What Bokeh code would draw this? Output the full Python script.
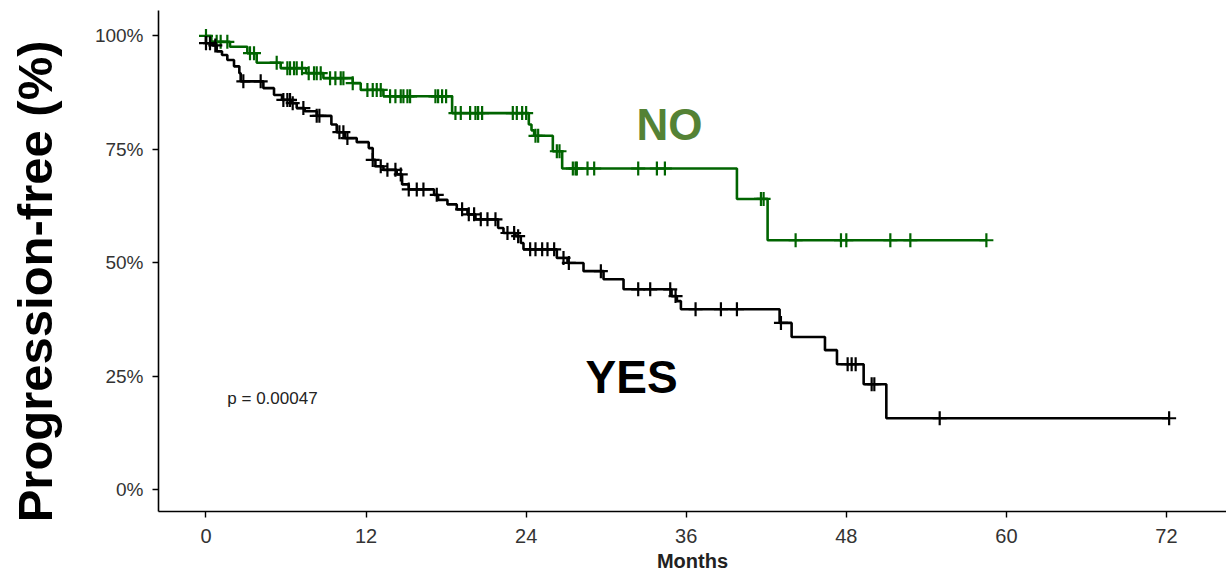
import numpy as np
from bokeh.plotting import figure
from bokeh.models import Range1d, FixedTicker, Label
from bokeh.core.properties import value
from bokeh.embed import file_html
from bokeh.resources import INLINE

# ---- data ----
groups = ["NO", "YES"]
x_ticks = [0, 12, 24, 36, 48, 60, 72]
y_ticks = [0, 25, 50, 75, 100]
y_tick_labels = ["0%", "25%", "50%", "75%", "100%"]
p_value_text = "p = 0.00047"
x_title = "Months"
y_title = "Progression-free (%)"

no_event_time = [0.4, 1.8, 3.1, 3.8, 5.6, 7.5, 8.8, 11.0, 11.6, 13.3, 18.45, 24.2, 24.4,
                 24.6, 26.0, 26.7, 39.8, 42.1]
no_surv = [98.7, 97.6, 96.2, 94.1, 92.9, 91.8, 90.7, 89.6, 88.1, 86.7, 83.0, 80.5, 79.2,
           78.0, 74.6, 70.8, 64.1, 55.0]
no_censor = [0.0, 0.8, 1.1, 1.6, 3.3, 3.6, 5.3, 6.1, 6.3, 6.6, 6.8, 7.2, 7.7, 8.1, 8.3, 8.6,
             9.3, 9.7, 10.1, 10.3, 11.0, 12.1, 12.5, 12.8, 13.1, 13.8, 14.2, 14.6, 14.8, 15.1,
             15.3, 17.2, 17.4, 17.7, 18.0, 18.7, 19.1, 19.8, 20.2, 20.4, 20.7, 23.0, 23.3, 23.7,
             24.0, 24.7, 24.9, 26.3, 26.5, 27.5, 27.7, 27.8, 28.6, 29.1, 32.4, 33.8, 34.4,
             41.6, 41.8, 44.2, 47.6, 48.0, 51.3, 52.8, 58.5]

yes_event_time = [0.0, 0.5, 0.8, 1.2, 1.6, 2.1, 2.5, 2.6, 4.3, 5.1, 5.7, 6.4, 6.8, 7.4, 8.3,
                  9.4, 9.8, 10.4, 11.3, 12.2, 12.5, 12.7, 13.3, 14.3, 14.7, 15.2, 17.1, 17.4,
                  18.1, 18.8, 19.6, 20.2, 21.9, 22.3, 23.2, 23.6, 23.8, 26.3, 27.1, 28.3, 29.8,
                  31.3, 34.9, 35.3, 35.6, 43.0, 43.9, 46.4, 47.3, 49.3, 51.0]
yes_surv = [98.4, 97.9, 96.6, 95.8, 94.7, 93.3, 91.8, 90.0, 88.5, 87.0, 85.9, 85.2, 84.1, 83.4,
            82.4, 80.5, 78.8, 77.5, 76.6, 75.3, 72.7, 71.3, 70.5, 69.5, 67.3, 66.2, 65.0, 63.9,
            62.9, 61.8, 60.7, 59.6, 57.7, 56.6, 55.9, 54.4, 53.0, 51.1, 50.0, 48.2, 46.4, 44.2,
            42.7, 41.6, 39.8, 36.8, 33.7, 30.8, 27.7, 23.3, 15.8]
yes_censor = [0.0, 0.3, 0.7, 2.8, 4.1, 5.8, 6.1, 6.3, 6.5, 7.3, 8.3, 8.5, 10.0, 10.3, 10.6, 12.5,
              13.1, 13.6, 14.2, 14.6, 15.2, 15.8, 16.3, 17.3, 19.2, 19.7, 20.1, 20.6, 21.1, 21.7,
              22.6, 23.1, 23.4, 24.3, 24.7, 25.2, 25.6, 26.1, 26.8, 27.2, 29.6, 32.4, 33.3, 34.8,
              35.2, 36.7, 38.6, 39.8, 43.1, 48.1, 48.4, 48.7, 49.9, 50.1, 55.0, 72.2]

FONT = "Liberation Sans"
GREEN = "#006400"
BLACK = "#000000"


def km_steps(times, surv, censor):
    end = max(max(times), max(censor))
    xs = [0.0] + list(times) + [end]
    ys = [100.0] + list(surv) + [surv[-1]]
    return xs, ys


def censor_y(times, surv, censor):
    t = np.asarray(times)
    s = np.asarray(surv)
    out = []
    for c in censor:
        i = np.searchsorted(t, c, side="right") - 1
        out.append(100.0 if i < 0 else float(s[i]))
    return out


p = figure(width=1226, height=575, output_backend="svg", toolbar_location=None,
           x_range=Range1d(-3.56, 76.5), y_range=Range1d(-4.74, 105.6),
           min_border_left=158, min_border_right=0, min_border_top=10, min_border_bottom=64,
           background_fill_color="white", border_fill_color="white")
p.outline_line_color = None
p.xgrid.visible = False
p.ygrid.visible = False

for times, surv, cens, col in [(no_event_time, no_surv, no_censor, GREEN),
                               (yes_event_time, yes_surv, yes_censor, BLACK)]:
    xs, ys = km_steps(times, surv, cens)
    p.step(xs, ys, mode="after", line_color=col, line_width=2.6)
    p.scatter(cens, censor_y(times, surv, cens), marker="cross", size=14,
              line_color=col, line_width=2.2)

# group labels
p.text(x=[34.75], y=[80.6], text=[groups[0]], text_font=value(FONT), text_font_style="bold",
       text_font_size="44px", text_color="#548235", text_align="center",
       text_baseline="middle")
p.text(x=[31.9], y=[24.9], text=[groups[1]], text_font=value(FONT), text_font_style="bold",
       text_font_size="46px", text_color="#000000", text_align="center",
       text_baseline="middle")

p.add_layout(Label(x=1.6, y=20.1, text=p_value_text, text_font=FONT, text_font_size="17px",
                   text_color="#222222", text_baseline="middle"))

# axes
for ax in (p.xaxis[0], p.yaxis[0]):
    ax.axis_line_color = "black"
    ax.axis_line_width = 1.6
    ax.major_tick_line_color = "black"
    ax.major_tick_line_width = 1.4
    ax.major_tick_out = 6
    ax.major_tick_in = 0
    ax.minor_tick_line_color = None
    ax.major_label_text_color = "#333333"

p.xaxis.ticker = FixedTicker(ticks=x_ticks)
p.xaxis.major_label_text_font = FONT
p.xaxis.major_label_text_font_size = "20px"
p.xaxis.major_label_standoff = 11
p.xaxis.axis_label = x_title
p.xaxis.axis_label_text_font = FONT
p.xaxis.axis_label_text_font_style = "bold"
p.xaxis.axis_label_text_font_size = "20px"
p.xaxis.axis_label_text_color = "#222222"
p.xaxis.axis_label_standoff = 4

yax = p.yaxis[0]
yax.ticker = FixedTicker(ticks=y_ticks)
yax.major_label_overrides = {t: l for t, l in zip(y_ticks, y_tick_labels)}
yax.major_label_text_font = FONT
yax.major_label_text_font_size = "19px"
yax.major_label_standoff = 9
# trailing no-break spaces shift the centred title down, as in the reference
yax.axis_label = y_title + "\u00a0" * 3
yax.axis_label_text_font = FONT
yax.axis_label_text_font_style = "bold"
yax.axis_label_text_font_size = "49px"
yax.axis_label_text_color = "black"
yax.axis_label_standoff = 30

open("out.html", "w").write(file_html(p, INLINE))
